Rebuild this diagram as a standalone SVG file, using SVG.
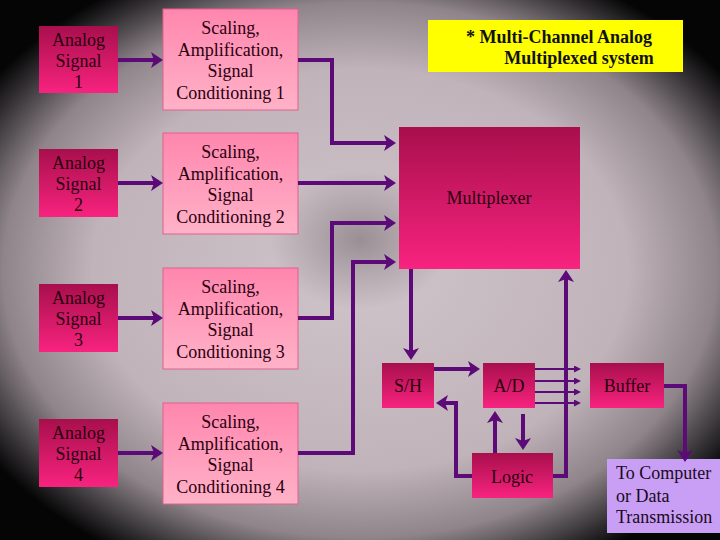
<svg xmlns="http://www.w3.org/2000/svg" width="720" height="540" viewBox="0 0 720 540">
<defs>
  <radialGradient id="bg" cx="50%" cy="50%" r="62%">
    <stop offset="0" stop-color="#d0c4cb"/>
    <stop offset="0.6" stop-color="#c0b3ba"/>
    <stop offset="0.8" stop-color="#8e8489"/>
    <stop offset="0.93" stop-color="#333033"/>
    <stop offset="1" stop-color="#050505"/>
  </radialGradient>
  <radialGradient id="spot" cx="50%" cy="50%" r="50%">
    <stop offset="0" stop-color="#5a5055" stop-opacity="0.45"/>
    <stop offset="1" stop-color="#5a5055" stop-opacity="0"/>
  </radialGradient>
  <linearGradient id="dark" x1="0" y1="0" x2="0" y2="1">
    <stop offset="0" stop-color="#a80f4c"/>
    <stop offset="1" stop-color="#f8237f"/>
  </linearGradient>
  <linearGradient id="light" x1="0" y1="0" x2="0" y2="1">
    <stop offset="0" stop-color="#ff86ae"/>
    <stop offset="1" stop-color="#ffb2c8"/>
  </linearGradient>
  <marker id="ah" viewBox="0 0 12 16" markerWidth="12" markerHeight="16" refX="3" refY="8" orient="auto" markerUnits="userSpaceOnUse">
    <path d="M0,0 L12,8 L0,16 L3,8 z" fill="#5c0a78"/>
  </marker>
  <marker id="sa" viewBox="0 0 7 7" markerWidth="7" markerHeight="7" refX="2" refY="3.5" orient="auto" markerUnits="userSpaceOnUse">
    <path d="M0,0 L7,3.5 L0,7 z" fill="#5c0a78"/>
  </marker>
  <style>
    .dk { fill: url(#dark); }
    .lt { fill: url(#light); stroke: #e0608e; stroke-width: 1; }
    .t { font-family: "Liberation Serif", "Times New Roman", serif; font-size: 18px; fill: #2a0010; text-anchor: middle; }
    .tl { font-family: "Liberation Serif", "Times New Roman", serif; font-size: 18px; fill: #1a0a20; }
    .tb { font-family: "Liberation Serif", "Times New Roman", serif; font-size: 18px; font-weight: bold; fill: #111; text-anchor: middle; }
    .c { fill: none; stroke: #5c0a78; stroke-width: 4; marker-end: url(#ah); }
    .s { fill: none; stroke: #5c0a78; stroke-width: 2; marker-end: url(#sa); }
  </style>
</defs>
<rect width="720" height="540" fill="url(#bg)"/>
<ellipse cx="360" cy="240" rx="90" ry="70" fill="url(#spot)"/>

<g id="title">
  <rect x="428" y="20" width="255" height="52" fill="#ffff00"/>
  <text class="tb" x="559" y="43">* Multi-Channel Analog</text>
  <text class="tb" x="579" y="64">Multiplexed system</text>
</g>

<g id="analog1"><rect class="dk" x="39" y="26" width="79" height="67"/>
  <text class="t" x="78.5" y="46">Analog</text><text class="t" x="78.5" y="67">Signal</text><text class="t" x="78.5" y="88">1</text></g>
<g id="analog2"><rect class="dk" x="39" y="149" width="79" height="68"/>
  <text class="t" x="78.5" y="169">Analog</text><text class="t" x="78.5" y="190">Signal</text><text class="t" x="78.5" y="211">2</text></g>
<g id="analog3"><rect class="dk" x="39" y="284" width="79" height="68"/>
  <text class="t" x="78.5" y="304">Analog</text><text class="t" x="78.5" y="325">Signal</text><text class="t" x="78.5" y="346">3</text></g>
<g id="analog4"><rect class="dk" x="39" y="419" width="79" height="68"/>
  <text class="t" x="78.5" y="439">Analog</text><text class="t" x="78.5" y="460">Signal</text><text class="t" x="78.5" y="481">4</text></g>

<g id="scaling1"><rect class="lt" x="163" y="9" width="135" height="101"/>
  <text class="t" x="230.5" y="34">Scaling,</text><text class="t" x="230.5" y="56">Amplification,</text><text class="t" x="230.5" y="77">Signal</text><text class="t" x="230.5" y="99">Conditioning 1</text></g>
<g id="scaling2"><rect class="lt" x="163" y="133" width="135" height="101"/>
  <text class="t" x="230.5" y="158">Scaling,</text><text class="t" x="230.5" y="180">Amplification,</text><text class="t" x="230.5" y="201">Signal</text><text class="t" x="230.5" y="223">Conditioning 2</text></g>
<g id="scaling3"><rect class="lt" x="163" y="268" width="135" height="101"/>
  <text class="t" x="230.5" y="293">Scaling,</text><text class="t" x="230.5" y="315">Amplification,</text><text class="t" x="230.5" y="336">Signal</text><text class="t" x="230.5" y="358">Conditioning 3</text></g>
<g id="scaling4"><rect class="lt" x="163" y="403" width="135" height="101"/>
  <text class="t" x="230.5" y="428">Scaling,</text><text class="t" x="230.5" y="450">Amplification,</text><text class="t" x="230.5" y="471">Signal</text><text class="t" x="230.5" y="493">Conditioning 4</text></g>

<g id="multiplexer"><rect class="dk" x="399" y="127" width="181" height="142"/>
  <text class="t" x="489" y="204">Multiplexer</text></g>
<g id="sh"><rect class="dk" x="382" y="363" width="52" height="45"/>
  <text class="t" x="408" y="392">S/H</text></g>
<g id="ad"><rect class="dk" x="483" y="363" width="52" height="45"/>
  <text class="t" x="509" y="392">A/D</text></g>
<g id="buffer"><rect class="dk" x="590" y="363" width="74" height="45"/>
  <text class="t" x="627" y="392">Buffer</text></g>
<g id="logic"><rect class="dk" x="472" y="453" width="81" height="45"/>
  <text class="t" x="512" y="483">Logic</text></g>
<g id="output"><rect x="607" y="459" width="113" height="74" fill="#c89ff5"/>
  <text class="tl" x="616" y="479">To Computer</text><text class="tl" x="616" y="502">or Data</text><text class="tl" x="616" y="523">Transmission</text></g>

<g id="connectors">
  <path class="c" d="M118,60 H154"/>
  <path class="c" d="M118,183 H154"/>
  <path class="c" d="M118,318 H154"/>
  <path class="c" d="M118,453 H154"/>
  <path class="c" d="M298,60 H332 V143 H387"/>
  <path class="c" d="M298,183 H387"/>
  <path class="c" d="M298,318 H332 V223 H387"/>
  <path class="c" d="M298,453 H353 V262 H387"/>
  <path class="c" d="M411,269 V351"/>
  <path class="c" d="M434,369 H471"/>
  <path class="c" d="M472,476 H456 V403 H445"/>
  <path class="c" d="M495,453 V420"/>
  <path class="c" d="M523,414 V441"/>
  <path class="c" d="M553,476 H566 V279"/>
  <path class="c" d="M664,386 H685 V453"/>
  <path class="s" d="M535,369 H576"/>
  <path class="s" d="M535,381 H576"/>
  <path class="s" d="M535,392 H576"/>
  <path class="s" d="M535,403 H576"/>
</g>
</svg>
